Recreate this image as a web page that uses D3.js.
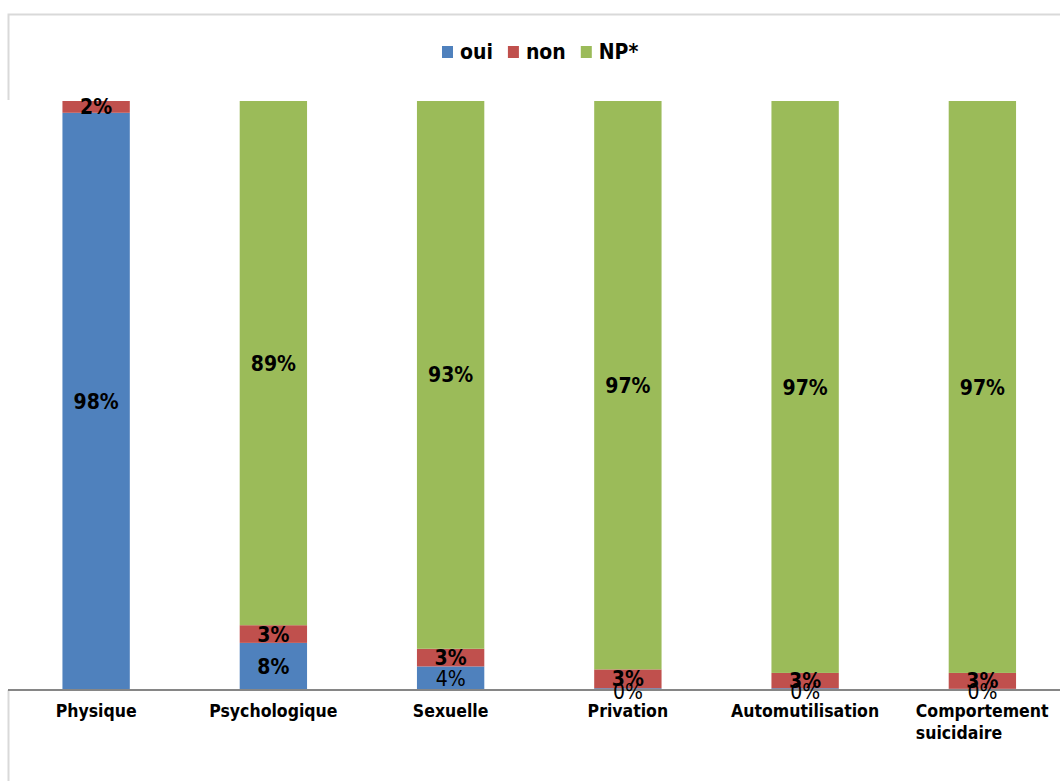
<!DOCTYPE html>
<html><head><meta charset="utf-8">
<script src="https://cdn.jsdelivr.net/npm/d3@7"></script>
<style>
html,body{margin:0;padding:0;background:#fff;}
svg text{font-family:"DejaVu Sans Condensed","DejaVu Sans",sans-serif;font-stretch:condensed;}
</style></head>
<body>
<svg id="c" width="1060" height="781"></svg>
<script>
const categories = ["Physique","Psychologique","Sexuelle","Privation","Automutilisation","Comportement suicidaire"];
const seriesNames = ["oui","non","NP*"];
const oui = [98, 8, 4, 0.3, 0.3, 0.2];
const non = [2, 3, 3, 3.2, 2.6, 2.7];
const np  = [0, 89, 93, 96.5, 97.1, 97.1];
const ouiLabels = ["98%","8%","4%","0%","0%","0%"];
const nonLabels = ["2%","3%","3%","3%","3%","3%"];
const npLabels  = ["","89%","93%","97%","97%","97%"];
const colors = ["#4F81BD","#C0504D","#9BBB59"];

const svg = d3.select("#c");
// chart border
svg.append("rect").attr("x",8.5).attr("y",14.5).attr("width",1100).attr("height",900)
  .attr("fill","#fff").attr("stroke","#d9d9d9").attr("stroke-width",2);

const x = d3.scaleBand().domain(categories).range([7.5,1071]).paddingInner(0.62).paddingOuter(0.31);
const y = d3.scaleLinear().domain([0,100]).range([690,101]);

// plot area
svg.append("rect").attr("x",0).attr("y",100).attr("width",1060).attr("height",590).attr("fill","#fff");

const rows = categories.map((c,i)=>({cat:c, oui:oui[i], non:non[i], "NP*":np[i]}));
const stack = d3.stack().keys(seriesNames).offset(d3.stackOffsetExpand);
const layers = stack(rows);
const labels = [ouiLabels, nonLabels, npLabels];
const bold = [[true,true,false,false,false,false],[true,true,true,true,true,true],[true,true,true,true,true,true]];

layers.forEach((layer,li)=>{
  svg.append("g").selectAll("rect").data(layer).join("rect")
    .attr("x",d=>x(d.data.cat))
    .attr("width",x.bandwidth())
    .attr("y",d=>y(d[1]*100))
    .attr("height",d=>y(d[0]*100)-y(d[1]*100))
    .attr("fill",colors[li]);
});

// axis
const axis = svg.append("g").attr("transform","translate(0,690)")
  .call(d3.axisBottom(x).tickSize(0).tickFormat(""));
axis.select(".domain").attr("stroke","#868686").attr("stroke-width",2).attr("d","M8,0H1060");

layers.forEach((layer,li)=>{
  svg.append("g").selectAll("text").data(layer).join("text")
    .attr("x",d=>x(d.data.cat)+x.bandwidth()/2)
    .attr("y",(d,i)=>(y(d[0]*100)+y(d[1]*100))/2 + (li===0 && i>=3 ? 2 : 0))
    .attr("dy","0.36em")
    .attr("text-anchor","middle")
    .attr("font-size",21)
    .attr("font-weight",(d,i)=>bold[li][i]?"bold":"normal")
    .attr("fill","#000")
    .text((d,i)=>labels[li][i]);
});

categories.forEach(c=>{
  const words = c.split(" ");
  const t = svg.append("text").attr("font-size",17.5).attr("font-weight","bold").attr("fill","#000");
  const cx = x(c)+x.bandwidth()/2;
  if(words.length===1){
    t.attr("x",cx).attr("y",717).attr("text-anchor","middle").text(c);
  } else {
    words.forEach((w,k)=>t.append("tspan").attr("x",0).attr("y",717+k*22).text(w));
    const bb = t.node().getBBox();
    t.selectAll("tspan").attr("x",cx-bb.width/2);
  }
});

// legend
const legend = svg.append("g");
let lx = 442;
seriesNames.forEach((s,i)=>{
  legend.append("rect").attr("x",lx).attr("y",46).attr("width",11).attr("height",12).attr("fill",colors[i]);
  const t = legend.append("text").attr("x",lx+18).attr("y",59).attr("font-size",21).attr("font-weight","bold").text(s);
  lx += 18 + t.node().getComputedTextLength() + 15;
});
</script>
</body></html>
